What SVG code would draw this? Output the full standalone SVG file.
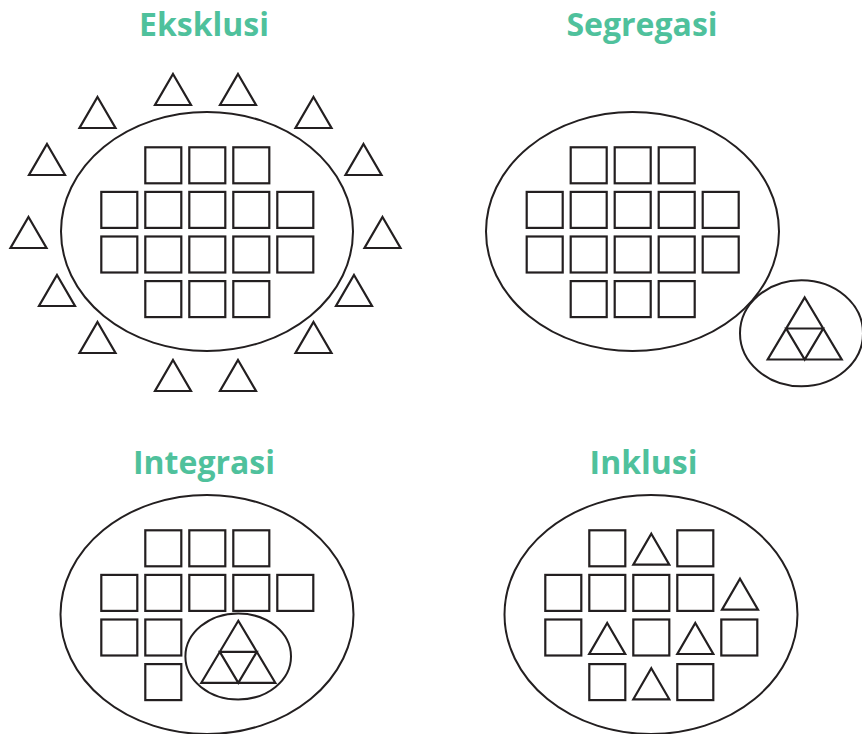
<svg xmlns="http://www.w3.org/2000/svg" xmlns:xlink="http://www.w3.org/1999/xlink" width="862" height="734" viewBox="0 0 862 734">
<style>
.t{font-family:"Open Sans","Liberation Sans",sans-serif;font-weight:700;font-size:32px;fill:#4fc19c;text-anchor:middle}
.s{fill:none;stroke:#231f20;stroke-width:2.2}
.e{fill:none;stroke:#231f20;stroke-width:2}
.tr{fill:none;stroke:#231f20;stroke-width:2.2;stroke-linejoin:miter}
</style>
<defs>
<rect id="sq" class="s" x="0" y="0" width="36" height="36"/>
<path id="tri" class="tr" d="M0,0 L18,31 L-18,31 Z"/>
<path id="tf" class="tr" d="M0,0 L37,62 L-37,62 Z M-18.5,31 L18.5,31 L0,62 Z"/>
</defs>
<rect width="862" height="734" fill="#fff"/>

<g id="eksklusi">
<text class="t" x="204" y="36">Eksklusi</text>
<ellipse class="e" cx="207" cy="231.5" rx="146" ry="119.5"/>
<use xlink:href="#sq" x="145.3" y="147.3"/><use xlink:href="#sq" x="189.3" y="147.3"/><use xlink:href="#sq" x="233.3" y="147.3"/>
<use xlink:href="#sq" x="101.3" y="191.9"/><use xlink:href="#sq" x="145.3" y="191.9"/><use xlink:href="#sq" x="189.3" y="191.9"/><use xlink:href="#sq" x="233.3" y="191.9"/><use xlink:href="#sq" x="277.3" y="191.9"/>
<use xlink:href="#sq" x="101.3" y="236.5"/><use xlink:href="#sq" x="145.3" y="236.5"/><use xlink:href="#sq" x="189.3" y="236.5"/><use xlink:href="#sq" x="233.3" y="236.5"/><use xlink:href="#sq" x="277.3" y="236.5"/>
<use xlink:href="#sq" x="145.3" y="281.1"/><use xlink:href="#sq" x="189.3" y="281.1"/><use xlink:href="#sq" x="233.3" y="281.1"/>
<use xlink:href="#tri" x="173" y="74"/><use xlink:href="#tri" x="238" y="74"/>
<use xlink:href="#tri" x="97.5" y="97"/><use xlink:href="#tri" x="313.5" y="97"/>
<use xlink:href="#tri" x="47" y="144"/><use xlink:href="#tri" x="363.5" y="144"/>
<use xlink:href="#tri" x="28.5" y="217"/><use xlink:href="#tri" x="382.5" y="217"/>
<use xlink:href="#tri" x="57" y="275"/><use xlink:href="#tri" x="354" y="275"/>
<use xlink:href="#tri" x="97.5" y="322"/><use xlink:href="#tri" x="313.5" y="322"/>
<use xlink:href="#tri" x="173" y="360"/><use xlink:href="#tri" x="238" y="360"/>
</g>

<g id="segregasi">
<text class="t" x="642" y="36">Segregasi</text>
<ellipse class="e" cx="632.5" cy="231.5" rx="146.5" ry="119.5"/>
<use xlink:href="#sq" x="570.7" y="147.3"/><use xlink:href="#sq" x="614.7" y="147.3"/><use xlink:href="#sq" x="658.7" y="147.3"/>
<use xlink:href="#sq" x="526.7" y="191.9"/><use xlink:href="#sq" x="570.7" y="191.9"/><use xlink:href="#sq" x="614.7" y="191.9"/><use xlink:href="#sq" x="658.7" y="191.9"/><use xlink:href="#sq" x="702.7" y="191.9"/>
<use xlink:href="#sq" x="526.7" y="236.5"/><use xlink:href="#sq" x="570.7" y="236.5"/><use xlink:href="#sq" x="614.7" y="236.5"/><use xlink:href="#sq" x="658.7" y="236.5"/><use xlink:href="#sq" x="702.7" y="236.5"/>
<use xlink:href="#sq" x="570.7" y="281.1"/><use xlink:href="#sq" x="614.7" y="281.1"/><use xlink:href="#sq" x="658.7" y="281.1"/>
<ellipse class="e" cx="801.5" cy="333.3" rx="61.5" ry="53"/>
<use xlink:href="#tf" x="804.7" y="297.5"/>
</g>

<g id="integrasi">
<text class="t" x="204" y="474">Integrasi</text>
<ellipse class="e" cx="207" cy="614.5" rx="146.5" ry="119.5"/>
<use xlink:href="#sq" x="145.3" y="530.3"/><use xlink:href="#sq" x="189.3" y="530.3"/><use xlink:href="#sq" x="233.3" y="530.3"/>
<use xlink:href="#sq" x="101.3" y="574.9"/><use xlink:href="#sq" x="145.3" y="574.9"/><use xlink:href="#sq" x="189.3" y="574.9"/><use xlink:href="#sq" x="233.3" y="574.9"/><use xlink:href="#sq" x="277.3" y="574.9"/>
<use xlink:href="#sq" x="101.3" y="619.5"/><use xlink:href="#sq" x="145.3" y="619.5"/>
<use xlink:href="#sq" x="145.3" y="664.1"/>
<ellipse class="e" cx="238.2" cy="656.5" rx="52.8" ry="43"/>
<use xlink:href="#tf" x="238.3" y="620.8"/>
</g>

<g id="inklusi">
<text class="t" x="643.5" y="474">Inklusi</text>
<ellipse class="e" cx="651" cy="614.5" rx="146.5" ry="119.5"/>
<use xlink:href="#sq" x="589.3" y="530.3"/><use xlink:href="#tri" x="651.3" y="533.7"/><use xlink:href="#sq" x="677.3" y="530.3"/>
<use xlink:href="#sq" x="545.3" y="574.9"/><use xlink:href="#sq" x="589.3" y="574.9"/><use xlink:href="#sq" x="633.3" y="574.9"/><use xlink:href="#sq" x="677.3" y="574.9"/><use xlink:href="#tri" x="740" y="578.7"/>
<use xlink:href="#sq" x="545.3" y="619.5"/><use xlink:href="#tri" x="607.2" y="623"/><use xlink:href="#sq" x="633.3" y="619.5"/><use xlink:href="#tri" x="695.3" y="623"/><use xlink:href="#sq" x="721.3" y="619.5"/>
<use xlink:href="#sq" x="589.3" y="664.1"/><use xlink:href="#tri" x="651.3" y="668.3"/><use xlink:href="#sq" x="677.3" y="664.1"/>
</g>
</svg>
